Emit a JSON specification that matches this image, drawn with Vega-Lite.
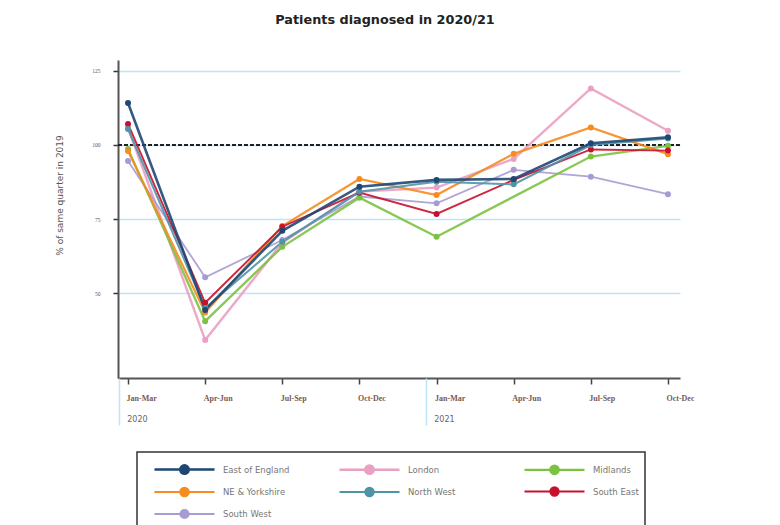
{
  "$schema": "https://vega.github.io/schema/vega-lite/v6.json",
  "width": 562,
  "height": 318,
  "autosize": {"type": "none"},
  "padding": {"left": 118, "top": 60, "right": 100, "bottom": 147},
  "background": "white",
  "config": {"view": {"stroke": null}},
  "title": {
    "text": "Patients diagnosed in 2020/21",
    "font": "DejaVu Sans",
    "fontSize": 12.8,
    "fontWeight": 600,
    "color": "#222",
    "anchor": "middle",
    "dx": -14,
    "offset": 33
  },
  "data": {
    "values": [
      {"region": "London", "q": 0, "v": 105.8},
      {"region": "London", "q": 1, "v": 34.1},
      {"region": "London", "q": 2, "v": 67.0},
      {"region": "London", "q": 3, "v": 84.3},
      {"region": "London", "q": 4, "v": 85.6},
      {"region": "London", "q": 5, "v": 95.3},
      {"region": "London", "q": 6, "v": 119.1},
      {"region": "London", "q": 7, "v": 104.8},
      {"region": "South West", "q": 0, "v": 94.6},
      {"region": "South West", "q": 1, "v": 55.3},
      {"region": "South West", "q": 2, "v": 67.9},
      {"region": "South West", "q": 3, "v": 82.6},
      {"region": "South West", "q": 4, "v": 80.3},
      {"region": "South West", "q": 5, "v": 91.6},
      {"region": "South West", "q": 6, "v": 89.3},
      {"region": "South West", "q": 7, "v": 83.4},
      {"region": "Midlands", "q": 0, "v": 98.6},
      {"region": "Midlands", "q": 1, "v": 40.5},
      {"region": "Midlands", "q": 2, "v": 65.6},
      {"region": "Midlands", "q": 3, "v": 82.2},
      {"region": "Midlands", "q": 4, "v": 69.0},
      {"region": "Midlands", "q": 6, "v": 96.1},
      {"region": "Midlands", "q": 7, "v": 99.7},
      {"region": "NE & Yorkshire", "q": 0, "v": 98.0},
      {"region": "NE & Yorkshire", "q": 1, "v": 43.4},
      {"region": "NE & Yorkshire", "q": 2, "v": 72.6},
      {"region": "NE & Yorkshire", "q": 3, "v": 88.5},
      {"region": "NE & Yorkshire", "q": 4, "v": 83.1},
      {"region": "NE & Yorkshire", "q": 5, "v": 97.0},
      {"region": "NE & Yorkshire", "q": 6, "v": 105.9},
      {"region": "NE & Yorkshire", "q": 7, "v": 96.9},
      {"region": "South East", "q": 0, "v": 107.1},
      {"region": "South East", "q": 1, "v": 46.7},
      {"region": "South East", "q": 2, "v": 72.4},
      {"region": "South East", "q": 3, "v": 83.9},
      {"region": "South East", "q": 4, "v": 76.7},
      {"region": "South East", "q": 5, "v": 88.2},
      {"region": "South East", "q": 6, "v": 98.5},
      {"region": "South East", "q": 7, "v": 98.1},
      {"region": "North West", "q": 0, "v": 105.4},
      {"region": "North West", "q": 1, "v": 44.9},
      {"region": "North West", "q": 2, "v": 67.3},
      {"region": "North West", "q": 3, "v": 84.2},
      {"region": "North West", "q": 4, "v": 87.6},
      {"region": "North West", "q": 5, "v": 86.7},
      {"region": "North West", "q": 6, "v": 100.0},
      {"region": "North West", "q": 7, "v": 102.2},
      {"region": "East of England", "q": 0, "v": 114.2},
      {"region": "East of England", "q": 1, "v": 44.3},
      {"region": "East of England", "q": 2, "v": 71.0},
      {"region": "East of England", "q": 3, "v": 85.9},
      {"region": "East of England", "q": 4, "v": 88.2},
      {"region": "East of England", "q": 5, "v": 88.5},
      {"region": "East of England", "q": 6, "v": 100.6},
      {"region": "East of England", "q": 7, "v": 102.6}
    ]
  },
  "layer": [
    {
      "mark": {"type": "rule", "color": "#222", "strokeWidth": 1.5, "strokeDash": [4, 2]},
      "encoding": {"y": {"datum": 100, "type": "quantitative"}}
    },
    {
      "mark": {"type": "line", "point": {"filled": true, "size": 36}, "strokeOpacity": 0.9},
      "encoding": {
        "x": {
          "field": "q",
          "type": "quantitative",
          "scale": {"domain": [-0.13, 7.156], "nice": false, "zero": false},
          "axis": {
            "orient": "bottom",
            "title": null,
            "values": [0, 1, 2, 3, 4, 5, 6, 7],
            "labelExpr": "['Jan-Mar','Apr-Jun','Jul-Sep','Oct-Dec'][datum.value % 4]",
            "grid": false,
            "domainColor": "#555",
            "domainWidth": 2,
            "tickColor": "#444",
            "tickSize": 6,
            "tickWidth": 1.5,
            "labelAlign": "left",
            "labelOffset": -2,
            "labelFont": "Liberation Serif",
            "labelFontSize": 8,
            "labelFontWeight": "bold",
            "labelColor": "#7a5a52",
            "labelPadding": 10
          }
        },
        "y": {
          "field": "v",
          "type": "quantitative",
          "scale": {"domain": [21.3, 128.7], "nice": false, "zero": false},
          "axis": {
            "title": "% of same quarter in 2019",
            "titleFont": "DejaVu Sans",
            "titleFontSize": 9,
            "titleFontWeight": "normal",
            "titleColor": "#555",
            "titleX": -54,
            "titleY": 135,
            "values": [50, 75, 100, 125],
            "grid": true,
            "gridColor": "#bfe3f7",
            "gridWidth": 1.5,
            "domainColor": "#555",
            "domainWidth": 2,
            "tickColor": "#333",
            "tickSize": 5,
            "tickWidth": 1.5,
            "labelFont": "Liberation Serif",
            "labelFontSize": 5.5,
            "labelColor": "#556",
            "labelPadding": 13
          }
        },
        "color": {
          "field": "region",
          "type": "nominal",
          "scale": {
            "domain": ["East of England", "London", "Midlands", "NE & Yorkshire", "North West", "South East", "South West"],
            "range": ["#1f4773", "#eaa0c2", "#7cc242", "#f68b1f", "#4f93a8", "#c8102e", "#a79bd3"]
          },
          "legend": {
            "title": null,
            "orient": "none",
            "legendX": 19,
            "legendY": 392,
            "direction": "horizontal",
            "columns": 3,
            "gridAlign": "all",
            "columnPadding": 38,
            "rowPadding": 1.5,
            "padding": 6,
            "strokeColor": "#333",
            "symbolType": "M-3,0L3,0M0.42,0A0.42,0.42,0,1,1,-0.42,0A0.42,0.42,0,1,1,0.42,0Z",
            "symbolSize": 400,
            "symbolOffset": 30,
            "symbolStrokeWidth": 2.5,
            "labelFont": "DejaVu Sans",
            "labelFontSize": 8.5,
            "labelColor": "#777",
            "labelOffset": 27,
            "encode": {
              "legend": {"update": {"strokeWidth": {"value": 1.5}}},
              "symbols": {"update": {"fill": {"scale": "color", "field": "value"}}}
            }
          }
        },
        "strokeWidth": {
          "field": "region",
          "type": "nominal",
          "scale": {
            "domain": ["East of England", "London", "Midlands", "NE & Yorkshire", "North West", "South East", "South West"],
            "range": [2.6, 1.8, 1.8, 1.8, 2.2, 1.8, 1.8]
          },
          "legend": null
        }
      }
    },
    {
      "mark": {"type": "point", "opacity": 0},
      "encoding": {
        "x": {
          "field": "q",
          "type": "quantitative",
          "axis": {
            "orient": "bottom",
            "title": null,
            "values": [-0.12, 3.86],
            "labelExpr": "datum.value < 1 ? '2020' : '2021'",
            "grid": false,
            "domain": false,
            "tickColor": "#bfe3f7",
            "tickSize": 47,
            "tickWidth": 1.5,
            "labelAlign": "left",
            "labelOffset": 8,
            "labelPadding": -10,
            "labelBaseline": "top",
            "labelFont": "DejaVu Sans",
            "labelFontSize": 8,
            "labelColor": "#666"
          }
        },
        "y": {"field": "v", "type": "quantitative"}
      }
    }
  ],
  "resolve": {"axis": {"x": "independent"}}
}
